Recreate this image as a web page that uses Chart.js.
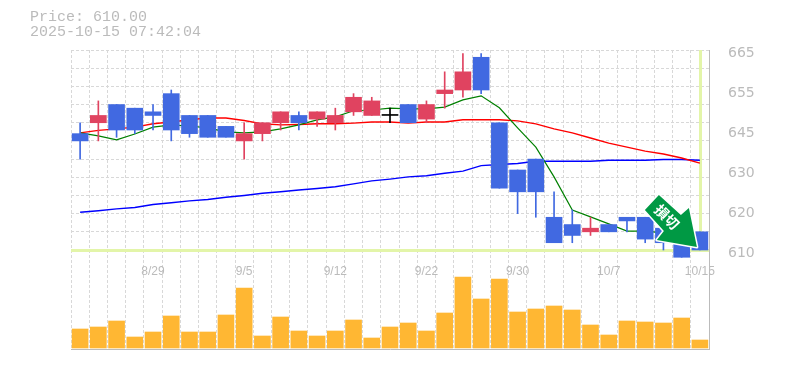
<!DOCTYPE html>
<html>
<head>
<meta charset="utf-8">
<style>
  html, body { margin: 0; padding: 0; background: #fff; }
  #wrap { position: relative; width: 785px; height: 370px; overflow: hidden; }
  #head { position: absolute; left: 30px; top: 10px; font: 15px/15px "Liberation Mono", monospace; color: #bbb; white-space: pre; }
</style>
<script src="https://cdn.jsdelivr.net/npm/chart.js@4"></script>
</head>
<body>
<div id="wrap">
  <div id="head">Price: 610.00
2025-10-15 07:42:04</div>
  <canvas id="chart" width="785" height="370"></canvas>
</div>
<script>
const dates = ["8/25","8/26","8/27","8/28","8/29","9/1","9/2","9/3","9/4","9/5","9/8","9/9","9/10","9/11","9/12","9/16","9/17","9/18","9/19","9/22","9/24","9/25","9/26","9/29","9/30","10/1","10/2","10/3","10/6","10/7","10/8","10/9","10/10","10/14","10/15"];
const shownDates = ["8/29","9/5","9/12","9/22","9/30","10/7","10/15"];

const opens  = [642,645,650,649,648,653,647,647,644,640,642,645,647,646,645,648,647,647,650,646,653,654,663,645,632,635,619,617,615,617,619,619,616,612,615];
const highs  = [645,651,650,649,650,654,647,647,644,645,645,648,648,648,649,653,652,649,650,651,659,664,664,645,632,635,626,621,619,617,619,619,616,612,615];
const lows   = [635,640,641,642,643,640,641,641,641,635,640,643,643,644,643,647,647,645,645,645,649,652,653,627,620,619,612,612,614,615,615,612,610,608,610];
const closes = [640,647,643,643,647,643,642,641,641,642,645,648,645,648,647,652,651,647,645,650,654,659,654,627,626,626,612,614,616,615,618,613,612,608,610];

const ma5  = [642.2,641.4,640.3,641.9,643.8,644.4,644.1,643.6,642.5,642.2,642.5,643.3,644.4,645.8,646.6,648.3,648.5,649.0,648.8,648.8,649.3,651.3,652.4,649.1,643.6,638.3,630.1,621.0,619.1,617.2,615.2,615.2,614.7,613.2,612.2];
const ma25 = [642.2,642.9,643.3,643.8,644.7,645.2,645.8,646.3,646.3,645.6,644.7,644.4,644.5,644.7,644.7,644.9,645.2,645.2,644.9,645.2,645.2,645.8,645.8,645.8,645.5,644.7,643.3,642.2,640.8,639.4,638.3,637.2,636.4,635.3,633.9];
const ma75 = [620.4,620.8,621.3,621.7,622.5,623.0,623.5,623.9,624.5,625.0,625.6,626.0,626.5,626.9,627.4,628.2,629.0,629.5,630.1,630.4,631.1,631.7,633.2,633.5,633.8,634.4,634.4,634.4,634.4,634.7,634.7,634.7,634.9,634.9,634.7];
const volumes = [19,21,27,11,16,32,16,16,33,60,12,31,17,12,17,28,10,21,25,17,35,71,49,69,36,39,42,38,23,13,27,26,25,30,8];

const priceTicks = [665,654,643,632,621,610];
const priceLabels = ["665","655","645","630","620","610"];
const priceGrid = [665,660,655,650,645,640,635,630,625,620,615,610];

const UP = "#E04360", DOWN = "#4169E1", FLAT = "#000";
const candleColors = opens.map((o, i) => closes[i] > o ? UP : closes[i] < o ? DOWN : FLAT);

// crosshair on the last close, green marker pointing at it
const lastMarks = {
  id: "lastMarks",
  beforeDatasetsDraw(chart) {
    const { ctx, chartArea, scales } = chart;
    const last = closes.length - 1;
    const px = Math.round(scales.x.getPixelForValue(last));
    const py = Math.round(scales.y.getPixelForValue(closes[last]));
    ctx.save();
    ctx.strokeStyle = "#E3F5A9";
    ctx.lineWidth = 3;
    ctx.beginPath();
    ctx.moveTo(chartArea.left, py + 0.5);
    ctx.lineTo(chartArea.right, py + 0.5);
    ctx.moveTo(px + 0.5, chartArea.top);
    ctx.lineTo(px + 0.5, py);
    ctx.stroke();
    ctx.restore();
  },
  afterDatasetsDraw(chart) {
    const { ctx, scales } = chart;
    const last = closes.length - 1;
    const px = scales.x.getPixelForValue(last);
    const py = scales.y.getPixelForValue(closes[last]);
    const shape = [[-41,-55],[-55,-40],[-36,-19],[-43,-10],[-3,-3],[-11,-42],[-19,-35]];
    ctx.save();
    ctx.beginPath();
    shape.forEach(([dx, dy], i) => i ? ctx.lineTo(px + dx, py + dy) : ctx.moveTo(px + dx, py + dy));
    ctx.closePath();
    ctx.strokeStyle = "#fff";
    ctx.lineWidth = 3;
    ctx.lineJoin = "round";
    ctx.stroke();
    ctx.fillStyle = "#009944";
    ctx.fill();
    ctx.translate(px - 33, py - 33);
    ctx.rotate(Math.PI / 4);
    ctx.fillStyle = "#fff";
    ctx.font = "bold 14px 'Noto Sans CJK JP'";
    ctx.textAlign = "center";
    ctx.textBaseline = "middle";
    ctx.fillText("損切", 0, 0);
    ctx.restore();
  }
};

new Chart(document.getElementById("chart"), {
  type: "bar",
  data: {
    labels: dates,
    datasets: [
      { data: opens.map((o, i) => [o, closes[i]]), backgroundColor: candleColors, barThickness: 16, minBarLength: 1, grouped: false, order: 1, yAxisID: "y" },
      { data: lows.map((l, i) => [l, highs[i]]), backgroundColor: candleColors, barThickness: 1, grouped: false, order: 2, yAxisID: "y" },
      { type: "line", data: ma5, borderColor: "#008000", borderWidth: 1.2, pointRadius: 0, tension: 0, order: 3, yAxisID: "y" },
      { type: "line", data: ma25, borderColor: "#FF0000", borderWidth: 1.4, pointRadius: 0, tension: 0, order: 3, yAxisID: "y" },
      { type: "line", data: ma75, borderColor: "#0000FF", borderWidth: 1.4, pointRadius: 0, tension: 0, order: 3, yAxisID: "y" },
      { data: volumes, backgroundColor: "#FFB733", barThickness: 16, grouped: false, order: 4, yAxisID: "vol" }
    ]
  },
  options: {
    responsive: false,
    animation: false,
    layout: { padding: { left: 71, top: 50, bottom: 21 } },
    plugins: { legend: { display: false }, tooltip: { enabled: false } },
    scales: {
      x: {
        offset: true,
        grid: { offset: true, color: "#D8D8D8", drawTicks: false },
        border: { display: true, color: "#BBB", dash: [3, 2] },
        ticks: { display: false }
      },
      dateAxis: {
        axis: "x",
        position: { y: 610 },
        offset: true,
        grid: { display: false },
        border: { display: false },
        ticks: {
          autoSkip: false,
          maxRotation: 0,
          padding: 6,
          color: "#BBB",
          font: { family: "Liberation Sans", size: 12 },
          callback(v) { const d = dates[v]; return shownDates.includes(d) ? d : ""; }
        }
      },
      y: {
        position: "left",
        min: 582.775,
        max: 665,
        afterBuildTicks(scale) { scale.ticks = priceGrid.map(value => ({ value })); },
        grid: { color: "#D8D8D8", drawTicks: false },
        border: { display: false, dash: [3, 2] },
        ticks: { display: false }
      },
      priceAxis: {
        axis: "y",
        position: "right",
        min: 582.775,
        max: 665,
        afterBuildTicks(scale) { scale.ticks = priceTicks.map(value => ({ value })); },
        afterFit(scale) { scale.width = 76; },
        grid: { display: false },
        border: { display: true, color: "#BBB" },
        ticks: {
          autoSkip: false,
          padding: 11,
          labelOffset: 3,
          color: "#BBB",
          font: { family: "DejaVu Sans", size: 14 },
          callback(v) { return priceLabels[priceTicks.indexOf(v)]; }
        }
      },
      vol: { display: false, min: -1, max: 298 }
    }
  },
  plugins: [lastMarks]
});
</script>
</body>
</html>
